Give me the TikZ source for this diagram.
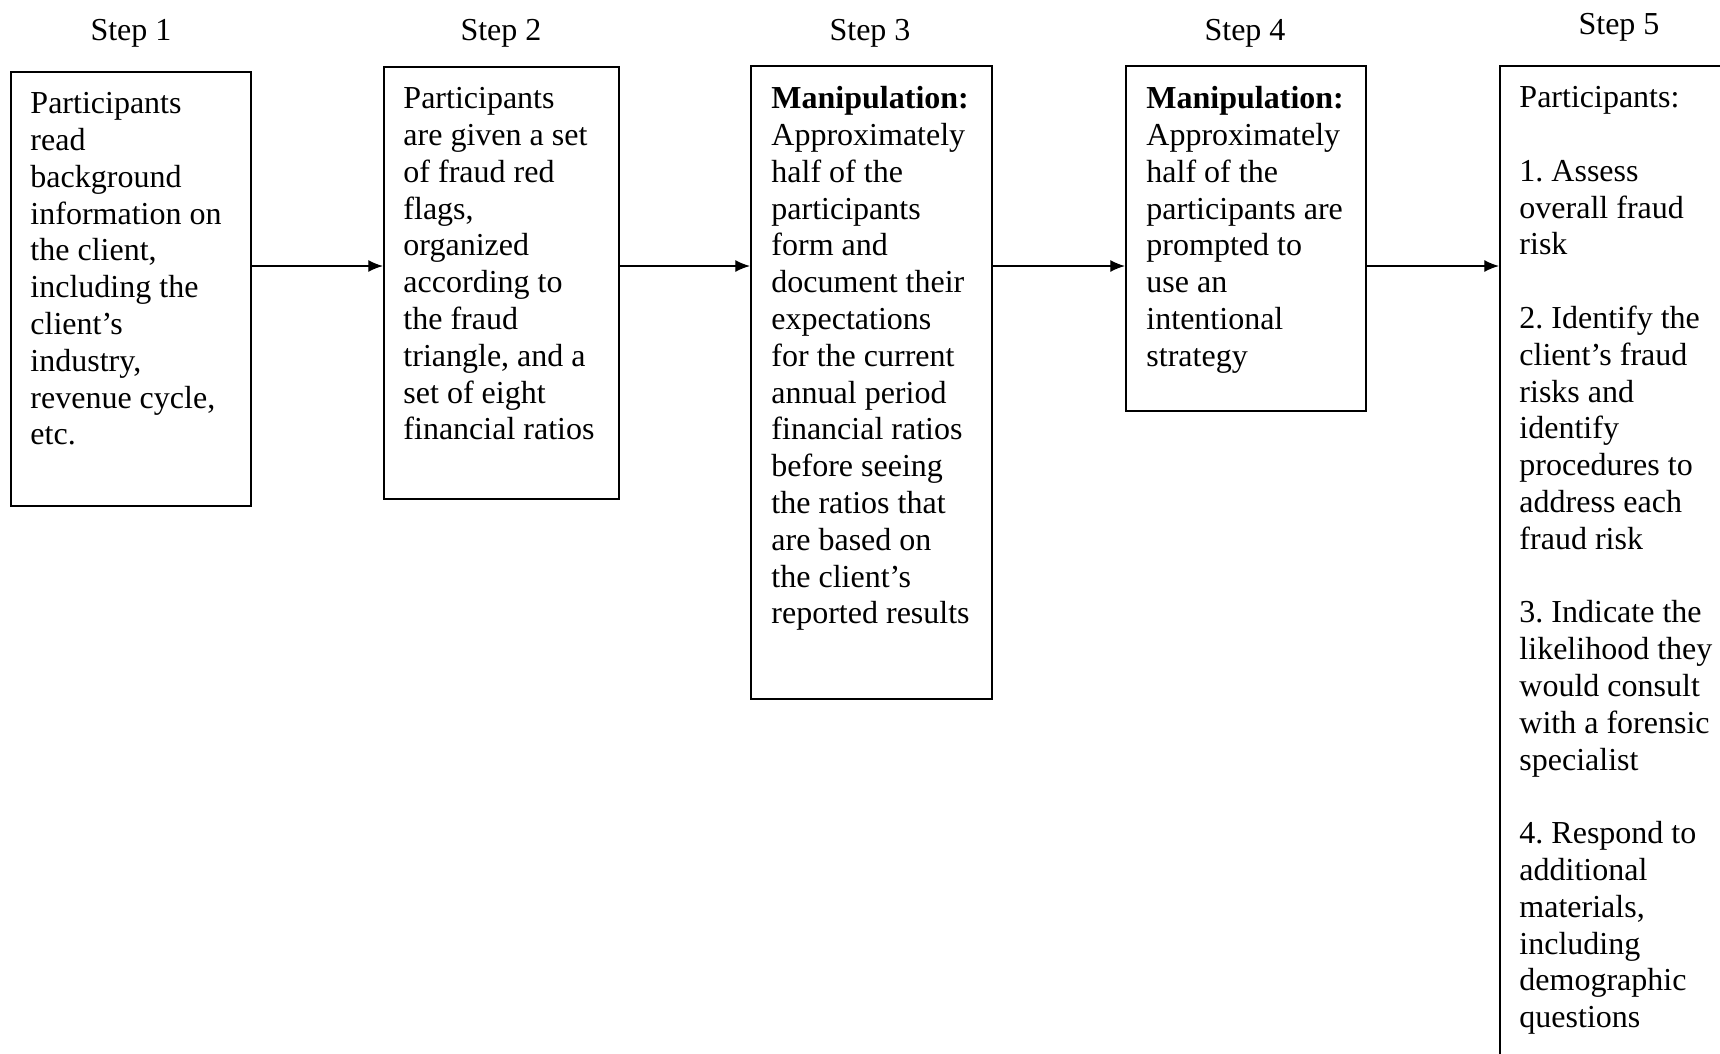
\documentclass[tikz,border=0pt]{standalone}
\usepackage{fontspec}
\setmainfont{Liberation Serif}
\usetikzlibrary{fit,arrows.meta}
\frenchspacing

\tikzset{
  stepbox/.style={draw, line width=0.8pt, inner sep=0pt},
  steptext/.style={inner sep=0pt, align=left, anchor=north west, font=\fontsize{12pt}{13.8pt}\selectfont},
  steplabel/.style={inner sep=0pt, font=\fontsize{12pt}{13.8pt}\selectfont},
  flow/.style={line width=0.5pt, -{Latex[length=5.5pt,width=4.5pt]}}
}

\begin{document}
\begin{tikzpicture}[x=0.375pt, y=-0.375pt]
  \useasboundingbox (0,0) rectangle (1720,1053);
  \clip (0,0) rectangle (1720,1053);

  % headings
  \node[steplabel] (s1) at (131,33.5) {Step 1};
  \node[steplabel] (s2) at (501,33.5) {Step 2};
  \node[steplabel] (s3) at (870,33.5) {Step 3};
  \node[steplabel] (s4) at (1245,33.5) {Step 4};
  \node[steplabel] (s5) at (1619,27.5) {Step 5};

  % boxes
  \node[stepbox, fit={(11,72) (251,506)}] (b1) {};
  \node[stepbox, fit={(384,67) (619,499)}] (b2) {};
  \node[stepbox, fit={(751,66) (992,699)}] (b3) {};
  \node[stepbox, fit={(1126,66) (1366,411)}] (b4) {};
  \node[stepbox, fit={(1500,66) (1780,1120)}] (b5) {};

  % box texts
  \node[steptext] (t1) at ([shift={(20,21)}]b1.north west) {Participants\\ read\\ background\\ information on\\ the client,\\ including the\\ client’s\\ industry,\\ revenue cycle,\\ etc.};
  \node[steptext] (t2) at ([shift={(20,21)}]b2.north west) {Participants\\ are given a set\\ of fraud red\\ flags,\\ organized\\ according to\\ the fraud\\ triangle, and a\\ set of eight\\ financial ratios};
  \node[steptext] (t3) at ([shift={(21,21)}]b3.north west) {\textbf{Manipulation:}\\ Approximately\\ half of the\\ participants\\ form and\\ document their\\ expectations\\ for the current\\ annual period\\ financial ratios\\ before seeing\\ the ratios that\\ are based on\\ the client’s\\ reported results};
  \node[steptext] (t4) at ([shift={(21,21)}]b4.north west) {\textbf{Manipulation:}\\ Approximately\\ half of the\\ participants are\\ prompted to\\ use an\\ intentional\\ strategy};
  \node[steptext] (t5) at ([shift={(20,21)}]b5.north west) {Participants:\\ ~\\ 1. Assess\\ overall fraud\\ risk\\ ~\\ 2. Identify the\\ client’s fraud\\ risks and\\ identify\\ procedures to\\ address each\\ fraud risk\\ ~\\ 3. Indicate the\\ likelihood they\\ would consult\\ with a forensic\\ specialist\\ ~\\ 4. Respond to\\ additional\\ materials,\\ including\\ demographic\\ questions};

  % arrows
  \coordinate (row) at (0,266);
  \draw[flow] (b1.east |- row) -- (b2.west |- row);
  \draw[flow] (b2.east |- row) -- (b3.west |- row);
  \draw[flow] (b3.east |- row) -- (b4.west |- row);
  \draw[flow] (b4.east |- row) -- (b5.west |- row);
\end{tikzpicture}
\end{document}
